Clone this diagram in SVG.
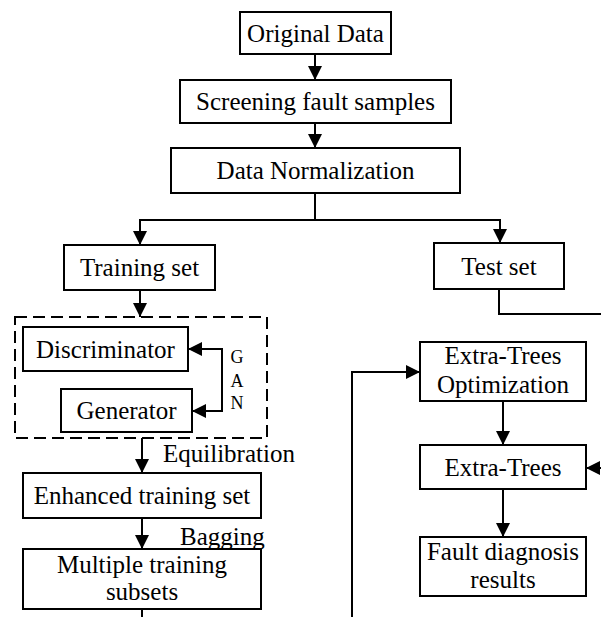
<svg xmlns="http://www.w3.org/2000/svg" width="601" height="617" viewBox="0 0 601 617">
<style>
.b{fill:#fff;stroke:#000;stroke-width:2}
.t{font-family:"Liberation Serif","Times New Roman",serif;font-size:25px;fill:#000;text-anchor:middle}
.l{font-family:"Liberation Serif","Times New Roman",serif;font-size:25px;fill:#000}
.g{font-family:"Liberation Serif","Times New Roman",serif;font-size:18px;fill:#000;text-anchor:middle}
.c{fill:none;stroke:#000;stroke-width:2}
</style>
<defs>
<marker id="ah" viewBox="0 0 14 14" refX="14" refY="7" markerWidth="14" markerHeight="14" markerUnits="userSpaceOnUse" orient="auto">
<path d="M0,0 L14,7 L0,14 z" fill="#000"/>
</marker>
</defs>
<rect width="601" height="617" fill="#fff"/>
<g id="connectors">
<path class="c" d="M315,54 V80" marker-end="url(#ah)"/>
<path class="c" d="M315,123 V148" marker-end="url(#ah)"/>
<path class="c" d="M315,193 V220"/>
<path class="c" d="M315,220 H140 V245" marker-end="url(#ah)"/>
<path class="c" d="M315,220 H500 V243" marker-end="url(#ah)"/>
<path class="c" d="M499,289 V314 H601"/>
<path class="c" d="M140,290 V317" marker-end="url(#ah)"/>
<path class="c" d="M222,380 V349 H188" marker-end="url(#ah)"/>
<path class="c" d="M222,380 V411 H192" marker-end="url(#ah)"/>
<path class="c" d="M142,438 V473" marker-end="url(#ah)"/>
<path class="c" d="M142,518 V549" marker-end="url(#ah)"/>
<path class="c" d="M142,609 V617"/>
<path class="c" d="M352,617 V372 H420" marker-end="url(#ah)"/>
<path class="c" d="M503,401 V445" marker-end="url(#ah)"/>
<path class="c" d="M601,468 H586" marker-end="url(#ah)"/>
<path class="c" d="M503,489 V537" marker-end="url(#ah)"/>
<text class="l" x="163" y="462">Equilibration</text>
<text class="l" x="180" y="545">Bagging</text>
</g>
<g id="gan">
<rect x="15" y="317" width="252" height="121" fill="none" stroke="#000" stroke-width="2" stroke-dasharray="12,6"/>
<text class="g" x="237" y="363">G</text>
<text class="g" x="237" y="387">A</text>
<text class="g" x="237" y="409">N</text>
</g>
<g id="original"><rect class="b" x="240" y="12" width="151" height="42"/><text class="t" x="315.5" y="42">Original Data</text></g>
<g id="screening"><rect class="b" x="180" y="80" width="271" height="43"/><text class="t" x="315.5" y="110">Screening fault samples</text></g>
<g id="normalization"><rect class="b" x="171" y="148" width="289" height="45"/><text class="t" x="315.5" y="179">Data Normalization</text></g>
<g id="training"><rect class="b" x="64" y="245" width="151" height="45"/><text class="t" x="139.5" y="276">Training set</text></g>
<g id="test"><rect class="b" x="434" y="243" width="130" height="46"/><text class="t" x="499" y="274.5">Test set</text></g>
<g id="discriminator"><rect class="b" x="23" y="327" width="165" height="44"/><text class="t" x="105.5" y="357.5">Discriminator</text></g>
<g id="generator"><rect class="b" x="61" y="389" width="131" height="43"/><text class="t" x="126.5" y="419">Generator</text></g>
<g id="enhanced"><rect class="b" x="23" y="473" width="238" height="45"/><text class="t" x="142" y="504">Enhanced training set</text></g>
<g id="multiple"><rect class="b" x="23" y="549" width="238" height="60"/><text class="t" x="142" y="573">Multiple training</text><text class="t" x="142" y="600">subsets</text></g>
<g id="optimization"><rect class="b" x="420" y="342" width="166" height="59"/><text class="t" x="503" y="364">Extra-Trees</text><text class="t" x="503" y="393">Optimization</text></g>
<g id="extratrees"><rect class="b" x="420" y="445" width="166" height="44"/><text class="t" x="503" y="475.5">Extra-Trees</text></g>
<g id="results"><rect class="b" x="420" y="537" width="166" height="59"/><text class="t" x="503" y="560">Fault diagnosis</text><text class="t" x="503" y="588">results</text></g>
</svg>
